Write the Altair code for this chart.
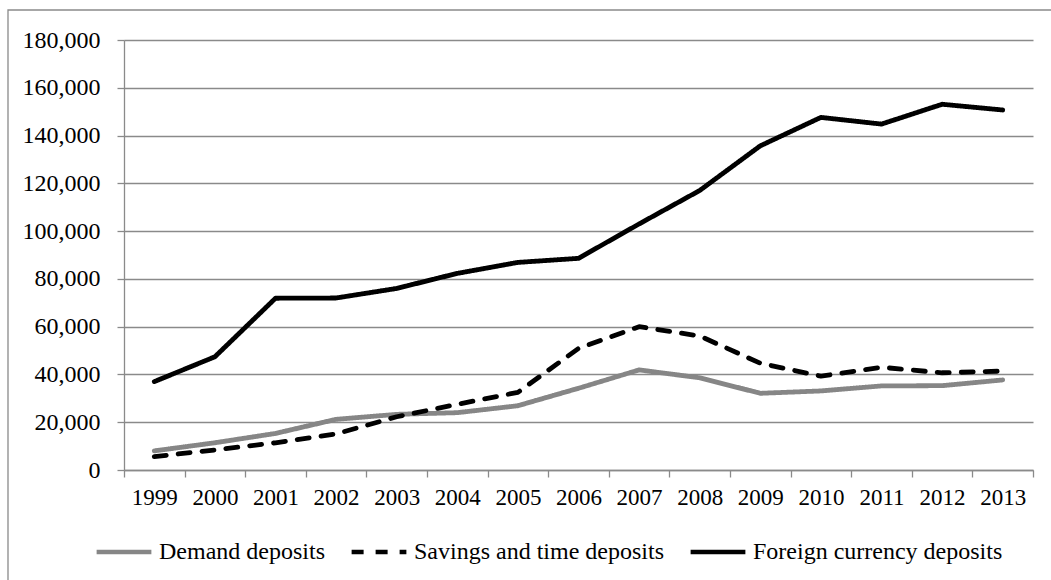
import altair as alt
import pandas as pd

# Deposit balances by year
years = [1999, 2000, 2001, 2002, 2003, 2004, 2005, 2006, 2007, 2008, 2009, 2010, 2011, 2012, 2013]
demand = [8000, 11400, 15300, 21200, 23300, 24000, 26900, 34200, 41900, 38600, 32100, 33100, 35200, 35300, 37700]
savings = [5600, 8400, 11400, 15100, 22300, 27500, 32500, 50900, 60000, 56100, 44700, 39300, 43000, 40700, 41400]
foreign = [37000, 47400, 71900, 72000, 76000, 82300, 86900, 88600, 103000, 117000, 135700, 147600, 144800, 153100, 150700]

series_names = ["Demand deposits", "Savings and time deposits", "Foreign currency deposits"]
y_ticks = [0, 20000, 40000, 60000, 80000, 100000, 120000, 140000, 160000, 180000]

rows = []
for name, vals in zip(series_names, [demand, savings, foreign]):
    for yr, v in zip(years, vals):
        rows.append({"year": yr, "value": v, "series": name})
df = pd.DataFrame(rows)

W, H = 909, 430
FONT = "Liberation Serif"
GRAY = "#8a8a8a"

# category boundaries for tick marks; labels sit in the middle of each band
boundaries = [years[0] - 0.5 + i for i in range(len(years) + 1)]
half_band = W / len(years) / 2

legend = alt.Legend(
    title=None,
    orient="none",
    legendX=-30,
    legendY=482,
    direction="horizontal",
    symbolType="stroke",
    symbolSize=3000,
    symbolStrokeWidth=4.5,
    labelFont=FONT,
    labelFontSize=24,
    labelColor="black",
    labelLimit=400,
    labelOffset=5,
    columnPadding=17,
    padding=0,
)

lines = alt.Chart(df).mark_line(strokeWidth=4.8, strokeCap="round", strokeJoin="round").encode(
    x=alt.X(
        "year:Q",
        scale=alt.Scale(domain=[boundaries[0], boundaries[-1]], nice=False, zero=False),
        axis=alt.Axis(
            title=None,
            values=boundaries,
            labelExpr=f"datum.value < {years[-1]} ? format(datum.value + 0.5, 'd') : ''",
            labelOffset=half_band,
            labelFlush=False,
            labelOverlap=False,
            grid=False,
            tickSize=7,
            tickColor=GRAY,
            tickWidth=1.3,
            domainColor=GRAY,
            domainWidth=1.3,
            labelFont=FONT,
            labelFontSize=23,
            labelColor="black",
            labelPadding=9,
        ),
    ),
    y=alt.Y(
        "value:Q",
        scale=alt.Scale(domain=[0, 180000], nice=False),
        axis=alt.Axis(
            title=None,
            values=y_ticks,
            format=",d",
            grid=True,
            gridColor=GRAY,
            gridWidth=1.3,
            tickSize=7,
            tickColor=GRAY,
            tickWidth=1.3,
            domainColor=GRAY,
            domainWidth=1.3,
            labelFont=FONT,
            labelFontSize=24,
            labelColor="black",
            labelPadding=17,
        ),
    ),
    color=alt.Color(
        "series:N",
        scale=alt.Scale(domain=series_names, range=["#868686", "#000000", "#000000"]),
        legend=legend,
    ),
    strokeDash=alt.StrokeDash(
        "series:N",
        scale=alt.Scale(domain=series_names, range=[[1, 0], [12, 12], [1, 0]]),
        legend=legend,
    ),
    order=alt.Order("year:Q"),
)

# frame around the whole chart area
frame = alt.Chart(alt.Data(values=[{}])).mark_rect(
    fillOpacity=0, stroke=GRAY, strokeWidth=1.3
).encode(
    x=alt.value(-116), x2=alt.value(W + 40), y=alt.value(-30), y2=alt.value(H + 120)
)

chart = alt.layer(frame, lines).properties(
    width=W,
    height=H,
    autosize=alt.AutoSizeParams(type="none"),
    padding={"left": 124, "top": 40, "right": 18, "bottom": 110},
    background="white",
).configure_view(strokeWidth=0)

chart.save("out.html", embed_options={"renderer": "svg", "actions": False})
